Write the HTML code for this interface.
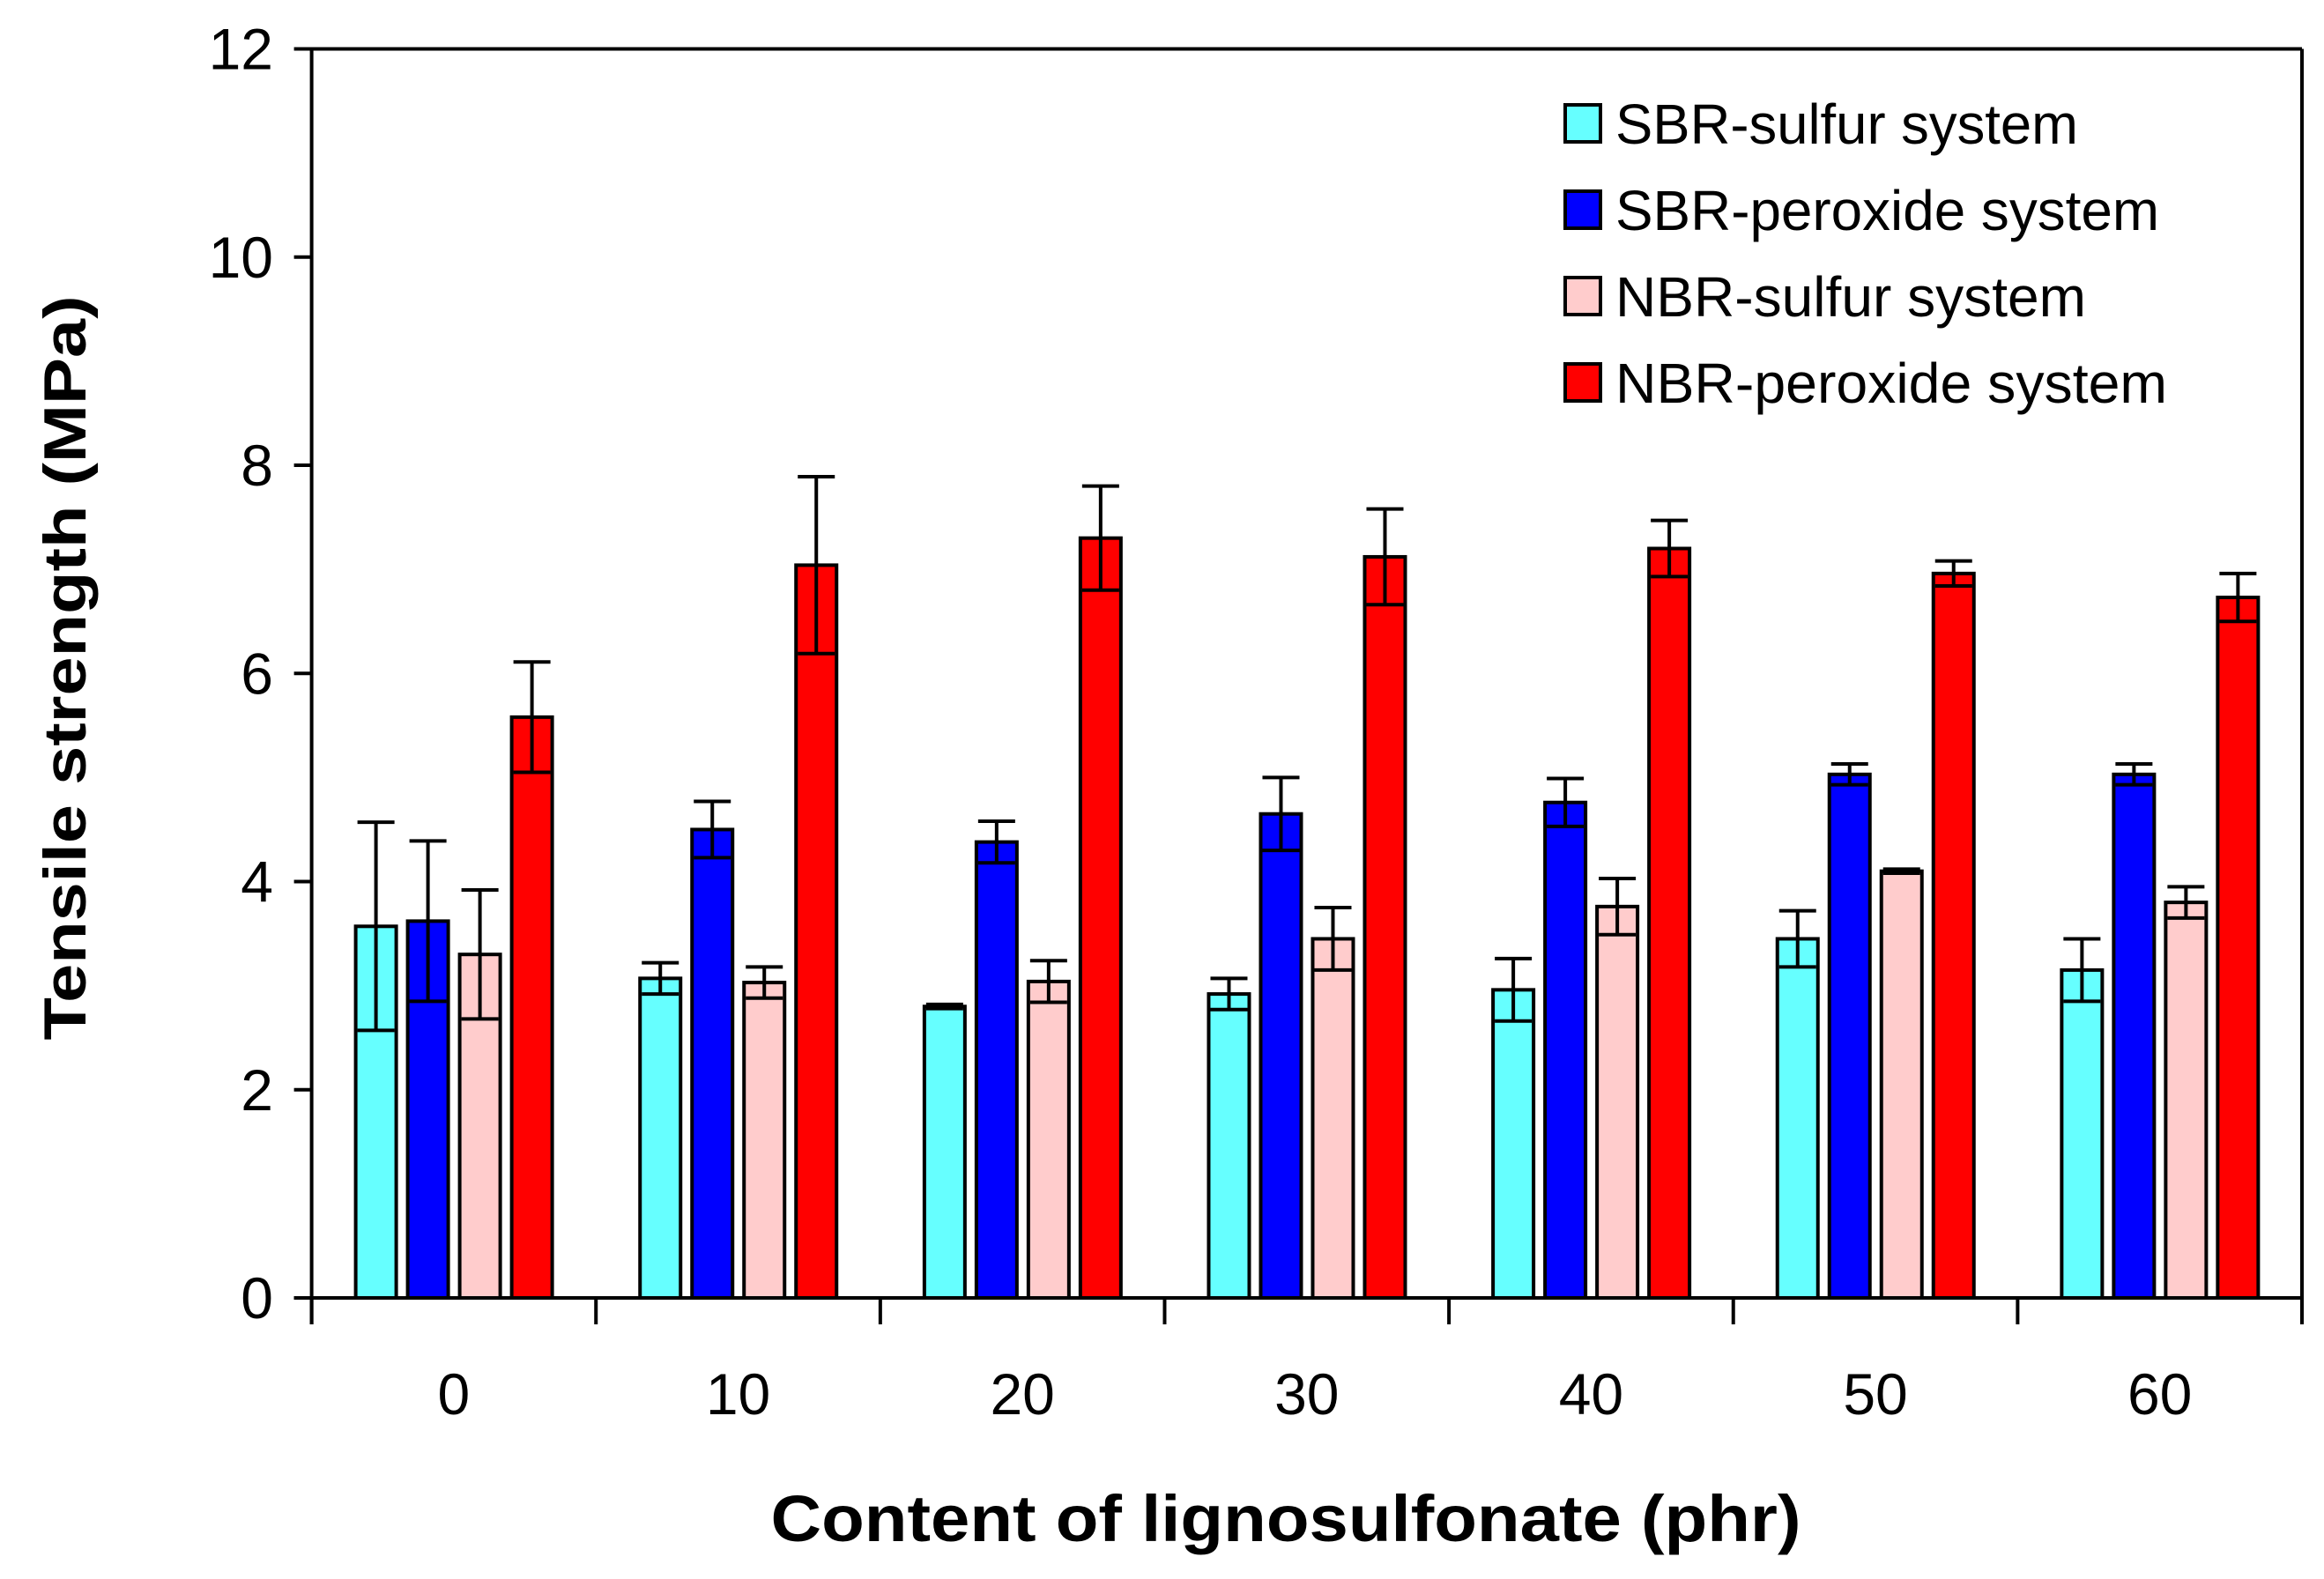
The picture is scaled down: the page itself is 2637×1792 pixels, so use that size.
<!DOCTYPE html>
<html><head><meta charset="utf-8"><style>
html,body{margin:0;padding:0;background:#fff;}
svg{display:block;font-family:"Liberation Sans",sans-serif;}
</style></head><body>
<svg id="chart" width="2637" height="1792" viewBox="0 0 2637 1792" xmlns="http://www.w3.org/2000/svg">
<g id="plot"></g>
</svg>
<script>
const categories = ["0","10","20","30","40","50","60"];
const seriesNames = ["SBR-sulfur system","SBR-peroxide system","NBR-sulfur system","NBR-peroxide system"];
const sbrSulfur = [3.57,3.07,2.80,2.92,2.96,3.45,3.15];
const sbrSulfurErr = [1.0,0.15,0.02,0.15,0.30,0.27,0.30];
const sbrPeroxide = [3.62,4.50,4.38,4.65,4.76,5.03,5.03];
const sbrPeroxideErr = [0.77,0.27,0.20,0.35,0.23,0.10,0.10];
const nbrSulfur = [3.30,3.03,3.04,3.45,3.76,4.10,3.80];
const nbrSulfurErr = [0.62,0.15,0.20,0.30,0.27,0.02,0.15];
const nbrPeroxide = [5.58,7.04,7.30,7.12,7.20,6.96,6.73];
const nbrPeroxideErr = [0.53,0.85,0.50,0.46,0.27,0.12,0.23];
const yTicks = [0,2,4,6,8,10,12];

const values = [sbrSulfur,sbrPeroxide,nbrSulfur,nbrPeroxide];
const errs = [sbrSulfurErr,sbrPeroxideErr,nbrSulfurErr,nbrPeroxideErr];
const colors = ["#66ffff","#0000ff","#ffcccc","#ff0000"];
const NS = "http://www.w3.org/2000/svg";
const X0 = 353.6, X1 = 2612, Y0 = 1473, YTOP = 55.5, YMAX = 12;
const catW = (X1 - X0) / categories.length;
function yScale(v){ return Y0 - (v / YMAX) * (Y0 - YTOP); }
function xCat(i){ return X0 + catW * i; }
const g = document.getElementById('plot');
function mk(tag, attrs, parent){
  const e = document.createElementNS(NS, tag);
  for (const k in attrs) e.setAttribute(k, attrs[k]);
  (parent || g).appendChild(e);
  return e;
}
const barW = 46, barStep = 59, groupOff = 50;
values.forEach((arr, s) => {
  arr.forEach((v, i) => {
    const x = xCat(i) + groupOff + s * barStep;
    const r = mk('rect', {x: x, y: yScale(v), width: barW, height: Y0 - yScale(v), fill: colors[s], stroke: '#000', 'stroke-width': 4});
    
    
  });
});
values.forEach((arr, s) => {
  arr.forEach((v, i) => {
    const cx = xCat(i) + groupOff + s * barStep + barW / 2;
    const e = errs[s][i];
    const top = yScale(v + e), bot = yScale(v - e);
    const eg = mk('g', {stroke: '#000', 'stroke-width': 4});
    
    
    mk('line', {x1: cx, y1: top, x2: cx, y2: bot}, eg);
    mk('line', {x1: cx - 21, y1: top, x2: cx + 21, y2: top}, eg);
    mk('line', {x1: cx - 21, y1: bot, x2: cx + 21, y2: bot}, eg);
  });
});
const frame = mk('g', {stroke: '#000', 'stroke-width': 4, fill: 'none'});


mk('line', {x1: X0, y1: YTOP, x2: X1, y2: YTOP}, frame);
mk('line', {x1: X1, y1: YTOP, x2: X1, y2: Y0 + 2}, frame);
mk('line', {x1: X0, y1: YTOP - 2, x2: X0, y2: Y0 + 30}, frame);
mk('line', {x1: X0 - 20, y1: Y0, x2: X1 + 2, y2: Y0}, frame);
yTicks.forEach(t => {
  const y = yScale(t);
  mk('line', {x1: X0 - 20, y1: y, x2: X0, y2: y, stroke: '#000', 'stroke-width': 4});
  const tx = mk('text', {x: 310, y: y + 23, 'text-anchor': 'end', 'font-size': 66, fill: '#000'});
  tx.textContent = t;
  
  
});
for (let i = 0; i <= categories.length; i++) {
  mk('line', {x1: xCat(i), y1: Y0, x2: xCat(i), y2: Y0 + 30, stroke: '#000', 'stroke-width': 4});
}
categories.forEach((c, i) => {
  const tx = mk('text', {x: xCat(i) + catW / 2, y: 1605, 'text-anchor': 'middle', 'font-size': 66, fill: '#000'});
  tx.textContent = c;
  
  
});
const xt = mk('text', {x: 1459, y: 1749, 'text-anchor': 'middle', 'font-size': 74, 'font-weight': 'bold', textLength: 1169, lengthAdjust: 'spacingAndGlyphs', fill: '#000'});
xt.textContent = 'Content of lignosulfonate (phr)';


const yt = mk('text', {x: 0, y: 0, 'text-anchor': 'middle', 'font-size': 68, 'font-weight': 'bold', textLength: 845, lengthAdjust: 'spacingAndGlyphs', fill: '#000', transform: 'translate(97,758) rotate(-90)'});
yt.textContent = 'Tensile strength (MPa)';


const legW = [525, 617, 534, 626];
seriesNames.forEach((n, s) => {
  const cy = 140 + s * 98;
  const lg = mk('g', {});
  
  
  mk('rect', {x: 1776, y: cy - 21, width: 40, height: 42, fill: colors[s], stroke: '#000', 'stroke-width': 4}, lg);
  const t = mk('text', {x: 1833, y: cy + 23, 'font-size': 64, textLength: legW[s], lengthAdjust: 'spacingAndGlyphs', fill: '#000'}, lg);
  t.textContent = n;
});
</script>
</body></html>
